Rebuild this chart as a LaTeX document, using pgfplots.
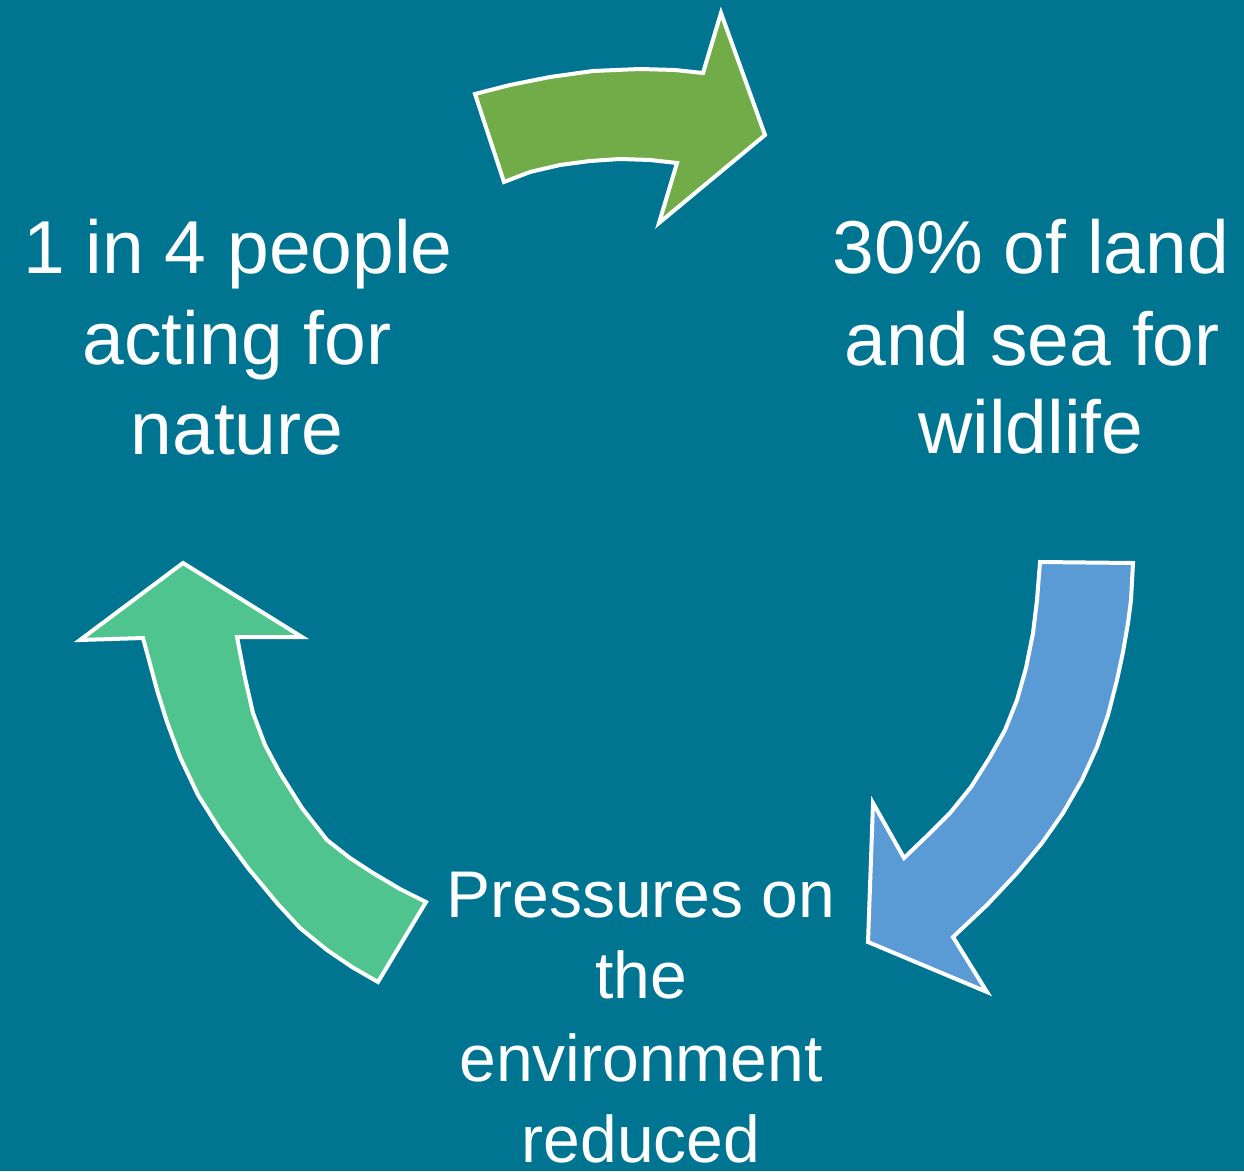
\documentclass[border=0pt]{standalone}
\usepackage{pgfplots}
\pgfplotsset{compat=1.18}
\usepackage{fontspec}
\setmainfont{Liberation Sans}
\definecolor{bg}{RGB}{0,117,146}
\definecolor{olive}{RGB}{114,172,72}
\definecolor{skyblue}{RGB}{91,155,213}
\definecolor{mint}{RGB}{80,196,143}
\begin{document}
\begin{tikzpicture}
\begin{axis}[width=622pt, height=585.5pt, scale only axis,
  xmin=0, xmax=1244, ymin=0, ymax=1171, y dir=reverse,
  hide axis, clip=true]
% background
\addplot[fill=bg, draw=none] coordinates {(0,0) (1244,0) (1244,1171) (0,1171)} -- cycle;
% top arrow (olive)
\addplot[fill=olive, draw=white, line width=2pt, line join=miter] coordinates {
 (475,94) (510,85) (550,77) (593,71) (640,69) (675,70) (703,73)
 (721,13) (765,135) (659,223) (677,163)
 (650,160) (620,159) (590,161) (560,165) (530,172) (504,182)
} -- cycle;
% right arrow (blue)
\addplot[fill=skyblue, draw=white, line width=2pt, line join=miter] coordinates {
 (1040,562) (1133,563) (1131,600) (1128,623) (1123,652) (1117,680) (1108,715)
 (1097,747) (1082,780) (1063,813) (1042,843) (1017,873) (987,905) (953,937)
 (987,992) (868,942) (873,803) (904,858)
 (930,833) (950,813) (971,787) (990,757) (1005,730) (1017,700) (1026,668)
 (1033,633) (1037,600)
} -- cycle;
% left arrow (mint)
\addplot[fill=mint, draw=white, line width=2pt, line join=miter] coordinates {
 (183,563) (302,637) (237,637)
 (245,678) (253,713) (265,745) (280,773) (302,808) (327,840) (350,858)
 (373,873) (400,889) (426,902)
 (378,982)
 (352,967) (327,950) (300,928) (277,903) (248,868) (220,830) (198,795)
 (180,757) (167,722) (157,690) (149,660) (143,638)
 (80,640)
} -- cycle;
% labels
\begin{scope}[every node/.style={anchor=base, text=white, inner sep=0pt}]
\node[font=\fontsize{37.5}{45}\selectfont] at (axis cs:238,273) {1 in 4 people};
\node[font=\fontsize{37.5}{45}\selectfont] at (axis cs:237,364) {acting for};
\node[font=\fontsize{37.5}{45}\selectfont] at (axis cs:237,454) {nature};
\node[font=\fontsize{37.5}{45}\selectfont] at (axis cs:1031,273) {30\% of land};
\node[font=\fontsize{37.5}{45}\selectfont] at (axis cs:1032,365) {and sea for};
\node[font=\fontsize{37.5}{45}\selectfont] at (axis cs:1031,453) {wildlife};
\node[font=\fontsize{33}{40}\selectfont] at (axis cs:641,917) {Pressures on};
\node[font=\fontsize{33}{40}\selectfont] at (axis cs:641,998) {the};
\node[font=\fontsize{33}{40}\selectfont] at (axis cs:641,1081) {environment};
\node[font=\fontsize{33}{40}\selectfont] at (axis cs:641,1162) {reduced};
\end{scope}
\coordinate (bl) at (axis cs:0,1171);
\coordinate (tr) at (axis cs:1244,0);
\end{axis}
\pgfresetboundingbox
\path[use as bounding box] (bl) rectangle (tr);
\end{tikzpicture}
\end{document}
